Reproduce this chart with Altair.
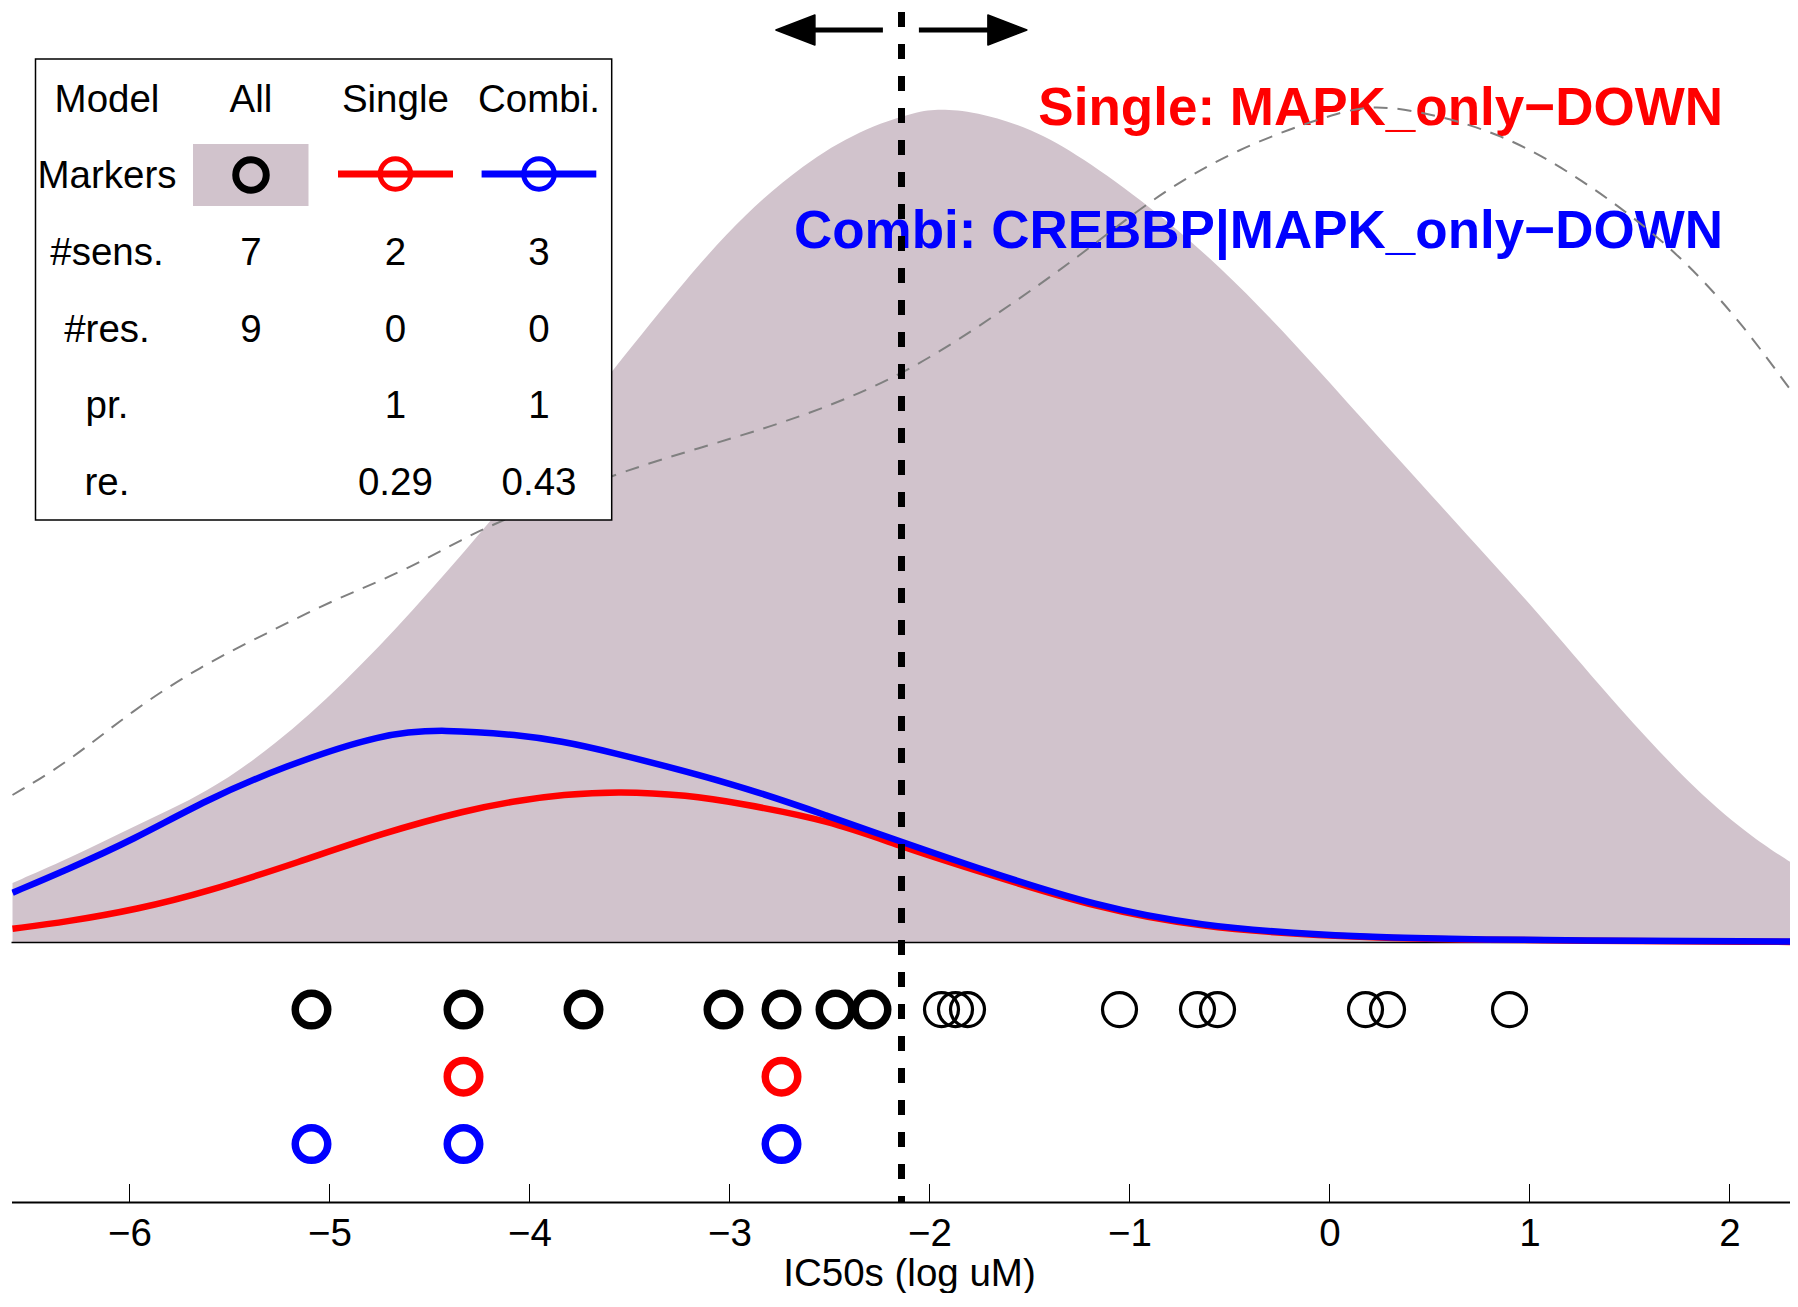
import altair as alt
import pandas as pd

# ---------------- data ----------------
x_domain = [-6.59, 2.3025]
y_domain = [-0.3113, 1.1212]
tick_values = [-6, -5, -4, -3, -2, -1, 0, 1, 2]

# density of all cell lines (grey filled area)
gray_x = [-6.585, -6.304, -5.960, -5.616, -5.272, -4.928, -4.584, -4.240, -3.896, -3.586,
          -3.208, -2.921, -2.634, -2.348, -2.061, -1.952, -1.774, -1.487, -1.247, -0.897,
          -0.547, -0.180, 0.187, 0.520, 0.806, 1.076, 1.448, 1.833, 2.125, 2.343]
gray_y = [0.0715, 0.1004, 0.1417, 0.1788, 0.2366, 0.3109, 0.3975, 0.4924, 0.5928, 0.6857,
          0.7992, 0.8748, 0.9333, 0.9752, 0.9972, 1.0, 0.9972, 0.9766, 0.9436, 0.8831,
          0.8116, 0.7208, 0.6217, 0.5337, 0.4580, 0.3865, 0.2806, 0.1816, 0.1238, 0.0908]

# dashed grey curve
dash_x = [-6.585, -6.314, -5.982, -5.648, -5.314, -4.982, -4.648, -4.314, -4.148, -3.536,
          -2.780, -2.158, -1.660, -1.245, -0.903, -0.479, 0.077, 0.233, 0.411, 0.856,
          1.301, 1.747, 2.081, 2.303, 2.343]
dash_y = [0.1770, 0.2151, 0.2791, 0.3310, 0.3710, 0.4110, 0.4431, 0.4869, 0.5050, 0.5681,
          0.6176, 0.6754, 0.7538, 0.8241, 0.8900, 0.9521, 0.9996, 1.0028, 0.9996, 0.9728,
          0.9106, 0.8281, 0.7373, 0.6630, 0.6520]

# Single model density (red)
single_x = [-6.585, -6.315, -5.960, -5.616, -5.148, -4.733, -4.314, -4.050, -3.838, -3.552,
            -3.208, -2.950, -2.499, -2.141, -1.734, -1.161, -0.647, -0.077, 0.611, 2.343]
single_y = [0.0165, 0.0248, 0.0399, 0.0605, 0.0970, 0.1314, 0.1589, 0.1706, 0.1774, 0.1816,
            0.1768, 0.1671, 0.1465, 0.1150, 0.0839, 0.0411, 0.0186, 0.0083, 0.0028, 0.0007]

# Combi model density (blue)
combi_x = [-6.585, -6.315, -5.983, -5.616, -5.232, -4.733, -4.429, -4.050, -3.833, -3.649,
           -2.950, -2.499, -2.141, -1.734, -1.161, -0.647, -0.077, 0.611, 2.343]
combi_y = [0.0598, 0.0872, 0.1231, 0.1711, 0.2111, 0.2512, 0.2558, 0.2491, 0.2410, 0.2320,
           0.1890, 0.1510, 0.1210, 0.0871, 0.0431, 0.0201, 0.0091, 0.0030, 0.0011]

# IC50 values (log uM)
ic50_all = [-5.09, -4.33, -3.73, -3.03, -2.74, -2.47, -2.29, -1.94, -1.87, -1.81,
            -1.05, -0.66, -0.56, 0.18, 0.29, 0.90]
ic50_single = [-4.33, -2.74]
ic50_combi = [-5.09, -4.33, -2.74]
row_all, row_single, row_combi = -0.0804, -0.161, -0.2418
threshold = -2.14

# arrows at the top
arrow_y = 1.0948
arrow_left = [-2.233, -2.62]     # shaft from, to
arrow_right = [-2.053, -1.66]
head_left_x = -2.6705
head_right_x = -1.6105

single_label = "Single: MAPK_only\u2212DOWN"
combi_label = "Combi: CREBBP|MAPK_only\u2212DOWN"

table_header = ["Model", "All", "Single", "Combi."]
table_rows = [
    ["Markers", "", "", ""],
    ["#sens.", "7", "2", "3"],
    ["#res.", "9", "0", "0"],
    ["pr.", "", "1", "1"],
    ["re.", "", "0.29", "0.43"],
]

# ---------------- styles ----------------
FONT = "Liberation Sans"
GRAY_FILL = "#d1c3cc"
RED = "#ff0000"
BLUE = "#0000ff"
PLOT_W, PLOT_H = 1778.5, 1194

xs = alt.Scale(domain=x_domain, nice=False, zero=False)
ys = alt.Scale(domain=y_domain, nice=False, zero=False)
xaxis = alt.Axis(values=tick_values, format="d", ticks=False, tickSize=0, grid=False,
                 labelFont=FONT, labelFontSize=38.5, labelColor="black", labelPadding=13,
                 labelFlush=False, labelOverlap=False,
                 domainColor="black", domainWidth=2,
                 title="IC50s (log uM)", titleFont=FONT, titleFontSize=38.5,
                 titleFontWeight="normal", titleColor="black",
                 titleX=897.5, titleY=83, titleBaseline="alphabetic", titleAlign="center")
X = alt.X("x:Q", scale=xs, axis=xaxis)
Y = alt.Y("y:Q", scale=ys, axis=None)

one = pd.DataFrame({"k": [0]})

layers = []

# grey area
gray_df = pd.DataFrame({"x": gray_x, "y": gray_y, "y0": [0.0] * len(gray_x)})
layers.append(alt.Chart(gray_df).mark_area(color=GRAY_FILL, interpolate="basis", clip=True)
              .encode(x=X, y=Y, y2="y0:Q"))

# annotations
layers.append(alt.Chart(one).mark_text(align="right", baseline="alphabetic", font=FONT,
                                       fontSize=53, fontWeight="bold", color=RED)
              .encode(x=alt.value(1711.5), y=alt.value(117), text=alt.value(single_label)))
layers.append(alt.Chart(one).mark_text(align="right", baseline="alphabetic", font=FONT,
                                       fontSize=53, fontWeight="bold", color=BLUE)
              .encode(x=alt.value(1711.5), y=alt.value(240), text=alt.value(combi_label)))

# dashed grey curve
dash_df = pd.DataFrame({"x": dash_x, "y": dash_y})
layers.append(alt.Chart(dash_df).mark_line(color="#808080", strokeWidth=2, strokeDash=[14, 10],
                                           interpolate="basis", clip=True)
              .encode(x=X, y=Y))

# baseline at zero density
base_df = pd.DataFrame({"x": [x_domain[0]], "x2": [x_domain[1]], "y": [0.0]})
layers.append(alt.Chart(base_df).mark_rule(color="black", strokeWidth=1.5)
              .encode(x=X, x2="x2:Q", y=Y))

# axis ticks (pointing inwards)
tick_df = pd.DataFrame({"x": tick_values})
layers.append(alt.Chart(tick_df).mark_rule(color="black", strokeWidth=1)
              .encode(x=X, y=alt.value(PLOT_H), y2=alt.value(PLOT_H - 18)))

# red and blue densities
single_df = pd.DataFrame({"x": single_x, "y": single_y})
combi_df = pd.DataFrame({"x": combi_x, "y": combi_y})
layers.append(alt.Chart(single_df).mark_line(color=RED, strokeWidth=6.5, interpolate="basis", clip=True)
              .encode(x=X, y=Y))
layers.append(alt.Chart(combi_df).mark_line(color=BLUE, strokeWidth=6.5, interpolate="basis", clip=True)
              .encode(x=X, y=Y))

# threshold
thr_df = pd.DataFrame({"x": [threshold]})
layers.append(alt.Chart(thr_df).mark_rule(color="black", strokeWidth=7, strokeDash=[15, 17])
              .encode(x=X, y=alt.value(4), y2=alt.value(PLOT_H)))

# IC50 markers
sens = [v for v in ic50_all if v < threshold]
res = [v for v in ic50_all if v >= threshold]
layers.append(alt.Chart(pd.DataFrame({"x": res, "y": [row_all] * len(res)}))
              .mark_point(shape="circle", filled=False, size=1156, strokeWidth=3.2, color="black", opacity=1)
              .encode(x=X, y=Y))
layers.append(alt.Chart(pd.DataFrame({"x": sens, "y": [row_all] * len(sens)}))
              .mark_point(shape="circle", filled=False, size=1056, strokeWidth=7.5, color="black", opacity=1)
              .encode(x=X, y=Y))
layers.append(alt.Chart(pd.DataFrame({"x": ic50_single, "y": [row_single] * len(ic50_single)}))
              .mark_point(shape="circle", filled=False, size=1056, strokeWidth=7.5, color=RED, opacity=1)
              .encode(x=X, y=Y))
layers.append(alt.Chart(pd.DataFrame({"x": ic50_combi, "y": [row_combi] * len(ic50_combi)}))
              .mark_point(shape="circle", filled=False, size=1056, strokeWidth=7.5, color=BLUE, opacity=1)
              .encode(x=X, y=Y))

# arrows
shaft_df = pd.DataFrame({"x": [arrow_left[0], arrow_right[0]], "x2": [arrow_left[1], arrow_right[1]],
                         "y": [arrow_y, arrow_y]})
layers.append(alt.Chart(shaft_df).mark_rule(color="black", strokeWidth=5)
              .encode(x=X, x2="x2:Q", y=Y))
layers.append(alt.Chart(pd.DataFrame({"x": [head_left_x], "y": [arrow_y]}))
              .mark_point(shape="M-1,0L1,-0.77L1,0.77Z", size=1521, filled=True, color="black",
                          stroke="black", strokeWidth=1.5, strokeJoin="round", opacity=1)
              .encode(x=X, y=Y))
layers.append(alt.Chart(pd.DataFrame({"x": [head_right_x], "y": [arrow_y]}))
              .mark_point(shape="M1,0L-1,-0.77L-1,0.77Z", size=1521, filled=True, color="black",
                          stroke="black", strokeWidth=1.5, strokeJoin="round", opacity=1)
              .encode(x=X, y=Y))

# ---------------- legend table ----------------
layers.append(alt.Chart(one).mark_rect(fill="white", stroke="black", strokeWidth=1.5)
              .encode(x=alt.value(24), x2=alt.value(600.2), y=alt.value(51), y2=alt.value(512)))
layers.append(alt.Chart(one).mark_rect(fill=GRAY_FILL)
              .encode(x=alt.value(181.5), x2=alt.value(297), y=alt.value(136), y2=alt.value(198)))
layers.append(alt.Chart(one).mark_point(shape="circle", filled=False, size=930, strokeWidth=7,
                                        color="black", opacity=1)
              .encode(x=alt.value(239.5), y=alt.value(167)))
for (x0, x1, cx, col) in [(326.5, 441.5, 383.9, RED), (470.1, 584.8, 527.5, BLUE)]:
    layers.append(alt.Chart(one).mark_rule(color=col, strokeWidth=7)
                  .encode(x=alt.value(x0), x2=alt.value(x1), y=alt.value(166)))
    layers.append(alt.Chart(one).mark_point(shape="circle", filled=False, size=930, strokeWidth=5,
                                            color=col, opacity=1)
                  .encode(x=alt.value(cx), y=alt.value(166)))

col_x = [95.5, 239.5, 383.9, 527.5]
row_base = [103.7, 180.3, 257, 333.7, 410.3, 487]
all_rows = [table_header] + table_rows
for r, row in enumerate(all_rows):
    for c, txt in enumerate(row):
        if txt == "":
            continue
        layers.append(alt.Chart(one).mark_text(align="center", baseline="alphabetic", font=FONT,
                                               fontSize=38.5, color="black")
                      .encode(x=alt.value(col_x[c]), y=alt.value(row_base[r]), text=alt.value(txt)))

chart = alt.layer(*layers).properties(
    width=PLOT_W, height=PLOT_H,
    padding={"left": 3.5, "top": 0, "right": 0, "bottom": 91},
    autosize=alt.AutoSizeParams(type="none"),
).configure_view(stroke=None)

chart.save("out.html", embed_options={"renderer": "svg", "actions": False})
